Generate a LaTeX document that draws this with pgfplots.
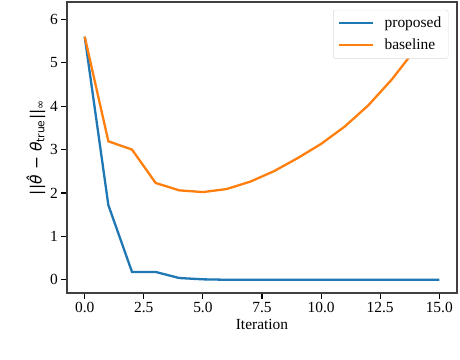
\documentclass[border=0pt]{standalone}
\usepackage{fontspec}
\setmainfont{Liberation Serif}
\newfontfamily\dvs{DejaVu Sans}
\usepackage{pgfplots}
\pgfplotsset{compat=1.18}
\definecolor{mplblue}{HTML}{1F77B4}
\definecolor{mplorange}{HTML}{FF7F0E}
\newcommand{\fs}{\fontsize{15.5}{18}\selectfont}
\begin{document}
\begin{tikzpicture}
\begin{axis}[
    name=ax,
    scale only axis,
    width=390bp, height=291bp,
    xmin=-0.75, xmax=15.75, ymin=-0.305, ymax=6.4,
    xtick={0,2.5,...,15}, ytick={0,1,...,6},
    xticklabel style={/pgf/number format/.cd, fixed, fixed zerofill, precision=1},
    /pgf/number format/assume math mode=true,
    tick align=outside, tick pos=left,
    major tick length=5.6bp,
    every tick/.style={black, line width=1.1bp},
    axis line style={black!75, line width=1.2bp},
    tick label style={font=\fs},
    label style={font=\fs},
    xlabel={Iteration},
    ylabel={{\dvs ||\textit{\^{θ}} − \textit{θ}\textsubscript{true}||\textsubscript{∞}}},
    ylabel style={yshift=-2bp},
    legend style={at={(0.978,0.973)}, anchor=north east, draw=black!15,
        rounded corners=2pt, fill=white, font=\fs,
        cells={anchor=west}, row sep=6bp, inner xsep=5pt, inner ysep=5pt},
    legend image code/.code={\draw[line width=2.3bp,#1] (0bp,0bp) -- (34bp,0bp);},
    every axis plot/.append style={line width=2.3bp},
]
\addplot[color=mplblue] coordinates {
  (0,5.6)(1,1.72)(2,0.18)(3,0.18)(4,0.04)(5,0.01)(6,0.0)(7,0.0)
  (8,0.0)(9,0.0)(10,0.0)(11,0.0)(12,0.0)(13,0.0)(14,0.0)(15,0.0)
};
\addlegendentry{\hspace{8bp}proposed}
\addplot[color=mplorange] coordinates {
  (0,5.6)(1,3.19)(2,3.0)(3,2.23)(4,2.06)(5,2.02)(6,2.09)(7,2.26)
  (8,2.5)(9,2.8)(10,3.13)(11,3.53)(12,4.02)(13,4.62)(14,5.32)(15,6.1)
};
\addlegendentry{\hspace{8bp}baseline}
\end{axis}
\path (ax.south west) ++(-67bp,-67bp) rectangle ++(460bp,360bp);
\end{tikzpicture}
\end{document}
